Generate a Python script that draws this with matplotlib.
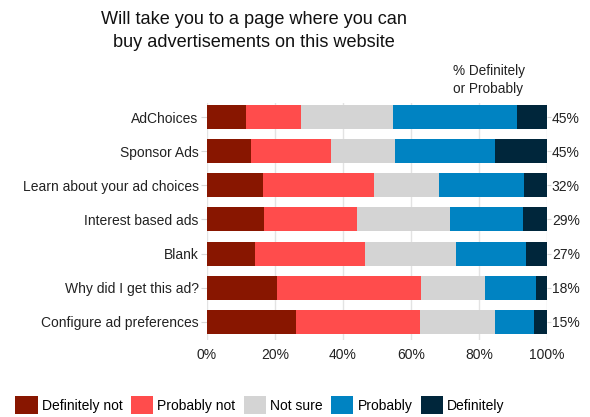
import matplotlib.pyplot as plt
import numpy as np

plt.rcParams['font.family'] = ['Liberation Sans', 'DejaVu Sans']

# survey answers per item, in percent
items = ['AdChoices', 'Sponsor Ads', 'Learn about your ad choices',
         'Interest based ads', 'Blank', 'Why did I get this ad?',
         'Configure ad preferences']
definitely_not = [11.5, 12.9, 16.5, 16.8, 14.1, 20.6, 26.2]
probably_not = [16.1, 23.6, 32.6, 27.3, 32.4, 42.3, 36.4]
not_sure = [27.1, 18.8, 19.1, 27.4, 26.7, 18.9, 22.1]
probably = [36.5, 29.4, 25.0, 21.3, 20.6, 15.0, 11.5]
definitely = [8.8, 15.3, 6.8, 7.5, 6.2, 3.2, 3.8]
pct_labels = ['45%', '45%', '32%', '29%', '27%', '18%', '15%']

answers = ['Definitely not', 'Probably not', 'Not sure', 'Probably', 'Definitely']
colors = ['#881600', '#FF4C4C', '#D4D4D4', '#0083C2', '#00263B']
series = [definitely_not, probably_not, not_sure, probably, definitely]

fig = plt.figure(figsize=(5.9, 4.17), dpi=100)
ax = fig.add_axes([207 / 590, 1 - 340 / 417, 340 / 590, 237 / 417])

y = np.arange(len(items))
left = np.zeros(len(items))
for vals, col, name in zip(series, colors, answers):
    ax.barh(y, vals, left=left, height=0.7, color=col, label=name, zorder=2)
    left += np.array(vals)

ax.set_xlim(0, 100)
ax.set_ylim(6.53, -0.41)
ax.set_xticks([0, 20, 40, 60, 80, 100])
ax.set_xticklabels(['0%', '20%', '40%', '60%', '80%', '100%'])
ax.set_yticks(y)
ax.set_yticklabels(items)
ax.grid(axis='x', color='#e3e3e3', linewidth=1, zorder=0)
for s in ax.spines.values():
    s.set_visible(False)
ax.tick_params(axis='y', length=4, color='#d8d8d8', labelsize=10, pad=2, labelcolor='#222222')
ax.tick_params(axis='x', length=0, labelsize=10, pad=6, labelcolor='#222222')

# right-hand "definitely or probably" totals
ax2 = ax.twinx()
ax2.set_ylim(ax.get_ylim())
ax2.set_yticks(y)
ax2.set_yticklabels(pct_labels)
for s in ax2.spines.values():
    s.set_visible(False)
ax2.tick_params(axis='y', length=3, color='#d8d8d8', labelsize=10, pad=0.5, labelcolor='#222222')

fig.text(453 / 590, 1 - 80 / 417, '% Definitely\nor Probably', fontsize=9.8,
         ha='left', va='center', color='#222222', linespacing=1.35)
fig.text(254 / 590, 1 - 31 / 417,
         'Will take you to a page where you can\nbuy advertisements on this website',
         fontsize=13.1, ha='center', va='center', color='#111111', linespacing=1.5)

handles, labels = ax.get_legend_handles_labels()
fig.legend(handles, labels, loc='center', bbox_to_anchor=(260 / 590, 1 - 405 / 417),
           ncol=5, frameon=False, fontsize=10, handlelength=1.6, handleheight=1.7,
           handletextpad=0.3, columnspacing=0.6, borderaxespad=0)

fig.savefig('out.png', dpi=100)
